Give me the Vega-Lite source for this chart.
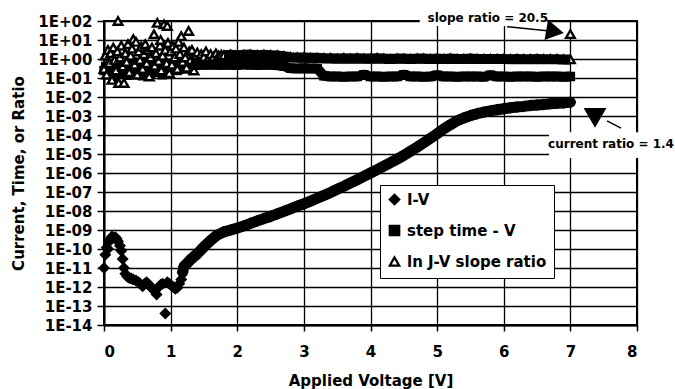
{
  "$schema": "https://vega.github.io/schema/vega-lite/v6.json",
  "width": 533,
  "height": 304,
  "autosize": {"type": "none"},
  "padding": {"left": 104, "top": 21, "right": 38, "bottom": 64},
  "background": "white",
  "config": {
    "font": "DejaVu Sans",
    "view": {"stroke": "black", "strokeWidth": 2},
    "axis": {
      "labelFont": "DejaVu Sans", "labelFontWeight": "bold", "labelFontSize": 15, "labelColor": "black",
      "titleFont": "DejaVu Sans", "titleFontWeight": "bold", "titleFontSize": 15, "titleColor": "black",
      "gridColor": "black", "gridWidth": 1.3, "gridOpacity": 1,
      "domainColor": "black", "domainWidth": 2, "tickColor": "black", "tickWidth": 1.5
    },
    "legend": {
      "labelFont": "DejaVu Sans", "labelFontWeight": "bold", "labelFontSize": 15, "labelColor": "black",
      "symbolSize": 90, "symbolStrokeWidth": 2.2,
      "rowPadding": 12, "labelOffset": 5, "padding": 7, "strokeColor": "black", "fillColor": "white"
    }
  },
  "datasets": {
    "series": [
      {"s":"I-V","v":0.00,"y":1e-11},{"s":"I-V","v":0.02,"y":5e-11},{"s":"I-V","v":0.04,"y":1.2e-10},{"s":"I-V","v":0.06,"y":1e-10},
      {"s":"I-V","v":0.08,"y":2.5e-10},{"s":"I-V","v":0.10,"y":3.5e-10},{"s":"I-V","v":0.12,"y":4.5e-10},{"s":"I-V","v":0.14,"y":4e-10},
      {"s":"I-V","v":0.17,"y":4.2e-10},{"s":"I-V","v":0.19,"y":3.5e-10},{"s":"I-V","v":0.21,"y":2.5e-10},{"s":"I-V","v":0.24,"y":1.5e-10},
      {"s":"I-V","v":0.26,"y":8e-11},{"s":"I-V","v":0.28,"y":3e-11},{"s":"I-V","v":0.30,"y":1e-11},{"s":"I-V","v":0.32,"y":5e-12},
      {"s":"I-V","v":0.35,"y":3.5e-12},{"s":"I-V","v":0.38,"y":3e-12},{"s":"I-V","v":0.41,"y":2.8e-12},{"s":"I-V","v":0.44,"y":2.5e-12},
      {"s":"I-V","v":0.48,"y":2.2e-12},{"s":"I-V","v":0.52,"y":1.8e-12},{"s":"I-V","v":0.55,"y":1.4e-12},{"s":"I-V","v":0.58,"y":1.1e-12},
      {"s":"I-V","v":0.61,"y":1.5e-12},{"s":"I-V","v":0.64,"y":1.8e-12},{"s":"I-V","v":0.67,"y":1.4e-12},{"s":"I-V","v":0.70,"y":1e-12},
      {"s":"I-V","v":0.73,"y":8e-13},{"s":"I-V","v":0.76,"y":6e-13},{"s":"I-V","v":0.79,"y":4e-13},{"s":"I-V","v":0.82,"y":1e-12},
      {"s":"I-V","v":0.85,"y":1.3e-12},{"s":"I-V","v":0.88,"y":1.5e-12},{"s":"I-V","v":0.92,"y":4e-14},{"s":"I-V","v":0.95,"y":1.8e-12},
      {"s":"I-V","v":0.98,"y":1.5e-12},{"s":"I-V","v":1.01,"y":1.2e-12},{"s":"I-V","v":1.04,"y":1e-12},{"s":"I-V","v":1.07,"y":8e-13},
      {"s":"I-V","v":1.10,"y":9e-13},{"s":"I-V","v":1.13,"y":1.5e-12},{"s":"I-V","v":1.16,"y":2.5e-12},{"s":"I-V","v":1.18,"y":6e-12},
      {"s":"I-V","v":1.20,"y":1.2e-11},{"s":"I-V","v":1.25,"y":1.8e-11},{"s":"I-V","v":1.30,"y":2.8e-11},{"s":"I-V","v":1.40,"y":5.6e-11},
      {"s":"I-V","v":1.50,"y":1.3e-10},{"s":"I-V","v":1.60,"y":2.8e-10},{"s":"I-V","v":1.70,"y":5.4e-10},{"s":"I-V","v":1.80,"y":8e-10},
      {"s":"I-V","v":1.90,"y":1e-9},{"s":"I-V","v":2.00,"y":1.25e-9},{"s":"I-V","v":2.10,"y":1.66e-9},{"s":"I-V","v":2.20,"y":2.24e-9},
      {"s":"I-V","v":2.30,"y":3e-9},{"s":"I-V","v":2.40,"y":4e-9},{"s":"I-V","v":2.50,"y":5.2e-9},{"s":"I-V","v":2.60,"y":7.1e-9},
      {"s":"I-V","v":2.70,"y":9.5e-9},{"s":"I-V","v":2.80,"y":1.3e-8},{"s":"I-V","v":2.90,"y":1.8e-8},{"s":"I-V","v":3.00,"y":2.4e-8},
      {"s":"I-V","v":3.10,"y":3.3e-8},{"s":"I-V","v":3.20,"y":4.7e-8},{"s":"I-V","v":3.30,"y":6.6e-8},{"s":"I-V","v":3.40,"y":9.5e-8},
      {"s":"I-V","v":3.50,"y":1.4e-7},{"s":"I-V","v":3.60,"y":2e-7},{"s":"I-V","v":3.70,"y":3e-7},{"s":"I-V","v":3.80,"y":4.4e-7},
      {"s":"I-V","v":3.90,"y":6.6e-7},{"s":"I-V","v":4.00,"y":1e-6},{"s":"I-V","v":4.10,"y":1.5e-6},{"s":"I-V","v":4.20,"y":2.3e-6},
      {"s":"I-V","v":4.30,"y":3.5e-6},{"s":"I-V","v":4.40,"y":5.4e-6},{"s":"I-V","v":4.50,"y":8.5e-6},{"s":"I-V","v":4.60,"y":1.4e-5},
      {"s":"I-V","v":4.70,"y":2.3e-5},{"s":"I-V","v":4.80,"y":3.9e-5},{"s":"I-V","v":4.90,"y":6.8e-5},{"s":"I-V","v":5.00,"y":1.17e-4},
      {"s":"I-V","v":5.10,"y":2.1e-4},{"s":"I-V","v":5.20,"y":3.5e-4},{"s":"I-V","v":5.30,"y":5.6e-4},{"s":"I-V","v":5.40,"y":7.9e-4},
      {"s":"I-V","v":5.50,"y":1.05e-3},{"s":"I-V","v":5.60,"y":1.32e-3},{"s":"I-V","v":5.70,"y":1.58e-3},{"s":"I-V","v":5.80,"y":1.86e-3},
      {"s":"I-V","v":5.90,"y":2.14e-3},{"s":"I-V","v":6.00,"y":2.4e-3},{"s":"I-V","v":6.10,"y":2.7e-3},{"s":"I-V","v":6.20,"y":2.95e-3},
      {"s":"I-V","v":6.30,"y":3.2e-3},{"s":"I-V","v":6.40,"y":3.55e-3},{"s":"I-V","v":6.50,"y":3.8e-3},{"s":"I-V","v":6.60,"y":4.07e-3},
      {"s":"I-V","v":6.70,"y":4.37e-3},{"s":"I-V","v":6.80,"y":4.68e-3},{"s":"I-V","v":6.90,"y":4.9e-3},{"s":"I-V","v":7.00,"y":5.25e-3},

      {"s":"step time - V","v":0.000,"y":0.25},{"s":"step time - V","v":0.025,"y":0.4},{"s":"step time - V","v":0.050,"y":0.15},{"s":"step time - V","v":0.075,"y":0.3},
      {"s":"step time - V","v":0.100,"y":0.5},{"s":"step time - V","v":0.125,"y":0.2},{"s":"step time - V","v":0.150,"y":0.35},{"s":"step time - V","v":0.175,"y":0.12},
      {"s":"step time - V","v":0.200,"y":0.45},{"s":"step time - V","v":0.225,"y":0.25},{"s":"step time - V","v":0.250,"y":0.6},{"s":"step time - V","v":0.275,"y":0.18},
      {"s":"step time - V","v":0.300,"y":0.3},{"s":"step time - V","v":0.325,"y":0.5},{"s":"step time - V","v":0.350,"y":0.14},{"s":"step time - V","v":0.375,"y":0.4},
      {"s":"step time - V","v":0.400,"y":0.22},{"s":"step time - V","v":0.425,"y":0.7},{"s":"step time - V","v":0.450,"y":0.3},{"s":"step time - V","v":0.475,"y":0.15},
      {"s":"step time - V","v":0.500,"y":0.45},{"s":"step time - V","v":0.525,"y":0.25},{"s":"step time - V","v":0.550,"y":0.55},{"s":"step time - V","v":0.575,"y":0.13},
      {"s":"step time - V","v":0.600,"y":0.35},{"s":"step time - V","v":0.625,"y":0.2},{"s":"step time - V","v":0.650,"y":0.5},{"s":"step time - V","v":0.675,"y":0.3},
      {"s":"step time - V","v":0.700,"y":0.16},{"s":"step time - V","v":0.725,"y":0.4},{"s":"step time - V","v":0.750,"y":0.25},{"s":"step time - V","v":0.775,"y":0.6},
      {"s":"step time - V","v":0.800,"y":0.2},{"s":"step time - V","v":0.825,"y":0.35},{"s":"step time - V","v":0.850,"y":0.5},{"s":"step time - V","v":0.875,"y":0.15},
      {"s":"step time - V","v":0.900,"y":0.3},{"s":"step time - V","v":0.925,"y":0.45},{"s":"step time - V","v":0.950,"y":0.22},{"s":"step time - V","v":0.975,"y":0.6},
      {"s":"step time - V","v":1.000,"y":0.35},{"s":"step time - V","v":1.025,"y":0.5},{"s":"step time - V","v":1.050,"y":0.3},{"s":"step time - V","v":1.075,"y":0.7},
      {"s":"step time - V","v":1.100,"y":0.25},{"s":"step time - V","v":1.125,"y":0.45},{"s":"step time - V","v":1.150,"y":0.55},{"s":"step time - V","v":1.175,"y":0.35},
      {"s":"step time - V","v":1.200,"y":0.5},{"s":"step time - V","v":1.225,"y":0.3},{"s":"step time - V","v":1.250,"y":0.45},
      {"s":"step time - V","v":1.3,"y":0.5},{"s":"step time - V","v":1.4,"y":0.48},{"s":"step time - V","v":1.5,"y":0.5},{"s":"step time - V","v":1.6,"y":0.52},
      {"s":"step time - V","v":1.7,"y":0.49},{"s":"step time - V","v":1.8,"y":0.5},{"s":"step time - V","v":1.9,"y":0.5},{"s":"step time - V","v":2.0,"y":0.48},
      {"s":"step time - V","v":2.1,"y":0.52},{"s":"step time - V","v":2.2,"y":0.5},{"s":"step time - V","v":2.3,"y":0.49},{"s":"step time - V","v":2.4,"y":0.5},
      {"s":"step time - V","v":2.5,"y":0.5},{"s":"step time - V","v":2.6,"y":0.47},{"s":"step time - V","v":2.7,"y":0.42},{"s":"step time - V","v":2.8,"y":0.33},
      {"s":"step time - V","v":2.9,"y":0.32},{"s":"step time - V","v":3.0,"y":0.33},{"s":"step time - V","v":3.1,"y":0.32},{"s":"step time - V","v":3.2,"y":0.32},
      {"s":"step time - V","v":3.3,"y":0.13},{"s":"step time - V","v":3.4,"y":0.12},{"s":"step time - V","v":3.5,"y":0.12},{"s":"step time - V","v":3.6,"y":0.115},
      {"s":"step time - V","v":3.7,"y":0.12},{"s":"step time - V","v":3.8,"y":0.12},{"s":"step time - V","v":3.9,"y":0.15},{"s":"step time - V","v":4.0,"y":0.12},
      {"s":"step time - V","v":4.1,"y":0.12},{"s":"step time - V","v":4.2,"y":0.115},{"s":"step time - V","v":4.3,"y":0.12},{"s":"step time - V","v":4.4,"y":0.12},
      {"s":"step time - V","v":4.5,"y":0.15},{"s":"step time - V","v":4.6,"y":0.12},{"s":"step time - V","v":4.7,"y":0.12},{"s":"step time - V","v":4.8,"y":0.115},
      {"s":"step time - V","v":4.9,"y":0.12},{"s":"step time - V","v":5.0,"y":0.14},{"s":"step time - V","v":5.1,"y":0.12},{"s":"step time - V","v":5.2,"y":0.12},
      {"s":"step time - V","v":5.3,"y":0.115},{"s":"step time - V","v":5.4,"y":0.12},{"s":"step time - V","v":5.5,"y":0.12},{"s":"step time - V","v":5.6,"y":0.12},
      {"s":"step time - V","v":5.7,"y":0.115},{"s":"step time - V","v":5.8,"y":0.14},{"s":"step time - V","v":5.9,"y":0.12},{"s":"step time - V","v":6.0,"y":0.12},
      {"s":"step time - V","v":6.1,"y":0.115},{"s":"step time - V","v":6.2,"y":0.12},{"s":"step time - V","v":6.3,"y":0.12},{"s":"step time - V","v":6.4,"y":0.12},
      {"s":"step time - V","v":6.5,"y":0.115},{"s":"step time - V","v":6.6,"y":0.12},{"s":"step time - V","v":6.7,"y":0.12},{"s":"step time - V","v":6.8,"y":0.12},
      {"s":"step time - V","v":6.9,"y":0.115},{"s":"step time - V","v":7.0,"y":0.12},

      {"s":"ln J-V slope ratio","v":0.00,"y":0.3},{"s":"ln J-V slope ratio","v":0.02,"y":1.5},{"s":"ln J-V slope ratio","v":0.04,"y":0.15},{"s":"ln J-V slope ratio","v":0.06,"y":3},
      {"s":"ln J-V slope ratio","v":0.08,"y":0.6},{"s":"ln J-V slope ratio","v":0.10,"y":2},{"s":"ln J-V slope ratio","v":0.12,"y":0.08},{"s":"ln J-V slope ratio","v":0.14,"y":4},
      {"s":"ln J-V slope ratio","v":0.16,"y":0.9},{"s":"ln J-V slope ratio","v":0.18,"y":0.25},{"s":"ln J-V slope ratio","v":0.20,"y":2.5},{"s":"ln J-V slope ratio","v":0.21,"y":100},
      {"s":"ln J-V slope ratio","v":0.22,"y":0.055},{"s":"ln J-V slope ratio","v":0.24,"y":1.2},{"s":"ln J-V slope ratio","v":0.26,"y":5},{"s":"ln J-V slope ratio","v":0.28,"y":0.4},
      {"s":"ln J-V slope ratio","v":0.30,"y":0.055},{"s":"ln J-V slope ratio","v":0.32,"y":2},{"s":"ln J-V slope ratio","v":0.34,"y":0.7},{"s":"ln J-V slope ratio","v":0.36,"y":6},
      {"s":"ln J-V slope ratio","v":0.38,"y":0.2},{"s":"ln J-V slope ratio","v":0.40,"y":1.5},{"s":"ln J-V slope ratio","v":0.42,"y":3.5},{"s":"ln J-V slope ratio","v":0.44,"y":11},
      {"s":"ln J-V slope ratio","v":0.46,"y":0.5},{"s":"ln J-V slope ratio","v":0.48,"y":8},{"s":"ln J-V slope ratio","v":0.50,"y":0.15},{"s":"ln J-V slope ratio","v":0.52,"y":2.5},
      {"s":"ln J-V slope ratio","v":0.54,"y":0.9},{"s":"ln J-V slope ratio","v":0.56,"y":4.5},{"s":"ln J-V slope ratio","v":0.58,"y":0.3},{"s":"ln J-V slope ratio","v":0.60,"y":1.8},
      {"s":"ln J-V slope ratio","v":0.62,"y":6},{"s":"ln J-V slope ratio","v":0.64,"y":0.6},{"s":"ln J-V slope ratio","v":0.66,"y":3},{"s":"ln J-V slope ratio","v":0.68,"y":0.12},
      {"s":"ln J-V slope ratio","v":0.70,"y":1.2},{"s":"ln J-V slope ratio","v":0.72,"y":4},{"s":"ln J-V slope ratio","v":0.75,"y":20},{"s":"ln J-V slope ratio","v":0.76,"y":0.45},
      {"s":"ln J-V slope ratio","v":0.78,"y":2},{"s":"ln J-V slope ratio","v":0.80,"y":80},{"s":"ln J-V slope ratio","v":0.82,"y":0.8},{"s":"ln J-V slope ratio","v":0.84,"y":5},
      {"s":"ln J-V slope ratio","v":0.85,"y":10},{"s":"ln J-V slope ratio","v":0.86,"y":0.25},{"s":"ln J-V slope ratio","v":0.88,"y":1.5},{"s":"ln J-V slope ratio","v":0.90,"y":67},
      {"s":"ln J-V slope ratio","v":0.92,"y":3},{"s":"ln J-V slope ratio","v":0.94,"y":0.6},{"s":"ln J-V slope ratio","v":0.95,"y":55},{"s":"ln J-V slope ratio","v":0.96,"y":7},
      {"s":"ln J-V slope ratio","v":0.98,"y":0.18},{"s":"ln J-V slope ratio","v":1.00,"y":2.5},{"s":"ln J-V slope ratio","v":1.02,"y":0.5},{"s":"ln J-V slope ratio","v":1.04,"y":5},
      {"s":"ln J-V slope ratio","v":1.06,"y":1.2},{"s":"ln J-V slope ratio","v":1.08,"y":3.5},{"s":"ln J-V slope ratio","v":1.10,"y":0.3},{"s":"ln J-V slope ratio","v":1.12,"y":8},
      {"s":"ln J-V slope ratio","v":1.14,"y":1.8},{"s":"ln J-V slope ratio","v":1.16,"y":16},{"s":"ln J-V slope ratio","v":1.18,"y":0.7},{"s":"ln J-V slope ratio","v":1.20,"y":4},
      {"s":"ln J-V slope ratio","v":1.22,"y":1.2},{"s":"ln J-V slope ratio","v":1.24,"y":0.35},{"s":"ln J-V slope ratio","v":1.27,"y":30},{"s":"ln J-V slope ratio","v":1.28,"y":2.5},
      {"s":"ln J-V slope ratio","v":1.30,"y":0.9},{"s":"ln J-V slope ratio","v":1.32,"y":3},{"s":"ln J-V slope ratio","v":1.35,"y":0.25},{"s":"ln J-V slope ratio","v":1.38,"y":1.6},
      {"s":"ln J-V slope ratio","v":1.40,"y":2.2},{"s":"ln J-V slope ratio","v":1.43,"y":0.7},{"s":"ln J-V slope ratio","v":1.46,"y":1.8},{"s":"ln J-V slope ratio","v":1.50,"y":1.3},
      {"s":"ln J-V slope ratio","v":1.53,"y":2.5},{"s":"ln J-V slope ratio","v":1.56,"y":0.9},{"s":"ln J-V slope ratio","v":1.60,"y":1.8},{"s":"ln J-V slope ratio","v":1.64,"y":1.3},
      {"s":"ln J-V slope ratio","v":1.68,"y":2},{"s":"ln J-V slope ratio","v":1.72,"y":1.5},{"s":"ln J-V slope ratio","v":1.76,"y":1.7},
      {"s":"ln J-V slope ratio","v":1.8,"y":1.6},{"s":"ln J-V slope ratio","v":1.9,"y":1.7},{"s":"ln J-V slope ratio","v":2.0,"y":1.6},{"s":"ln J-V slope ratio","v":2.1,"y":1.65},
      {"s":"ln J-V slope ratio","v":2.2,"y":1.7},{"s":"ln J-V slope ratio","v":2.3,"y":1.6},{"s":"ln J-V slope ratio","v":2.4,"y":1.65},{"s":"ln J-V slope ratio","v":2.5,"y":1.6},
      {"s":"ln J-V slope ratio","v":2.6,"y":1.55},{"s":"ln J-V slope ratio","v":2.7,"y":1.4},{"s":"ln J-V slope ratio","v":2.8,"y":1.25},{"s":"ln J-V slope ratio","v":2.9,"y":1.2},
      {"s":"ln J-V slope ratio","v":3.0,"y":1.2},{"s":"ln J-V slope ratio","v":3.1,"y":1.15},{"s":"ln J-V slope ratio","v":3.2,"y":1.15},{"s":"ln J-V slope ratio","v":3.3,"y":1.1},
      {"s":"ln J-V slope ratio","v":3.4,"y":1.1},{"s":"ln J-V slope ratio","v":3.5,"y":1.05},{"s":"ln J-V slope ratio","v":3.6,"y":1.1},{"s":"ln J-V slope ratio","v":3.7,"y":1.05},
      {"s":"ln J-V slope ratio","v":3.8,"y":1.1},{"s":"ln J-V slope ratio","v":3.9,"y":1.05},{"s":"ln J-V slope ratio","v":4.0,"y":1.05},{"s":"ln J-V slope ratio","v":4.1,"y":1.1},
      {"s":"ln J-V slope ratio","v":4.2,"y":1.05},{"s":"ln J-V slope ratio","v":4.3,"y":1.0},{"s":"ln J-V slope ratio","v":4.4,"y":1.05},{"s":"ln J-V slope ratio","v":4.5,"y":1.05},
      {"s":"ln J-V slope ratio","v":4.6,"y":1.0},{"s":"ln J-V slope ratio","v":4.7,"y":1.05},{"s":"ln J-V slope ratio","v":4.8,"y":1.05},{"s":"ln J-V slope ratio","v":4.9,"y":1.0},
      {"s":"ln J-V slope ratio","v":5.0,"y":1.05},{"s":"ln J-V slope ratio","v":5.1,"y":1.0},{"s":"ln J-V slope ratio","v":5.2,"y":1.05},{"s":"ln J-V slope ratio","v":5.3,"y":1.0},
      {"s":"ln J-V slope ratio","v":5.4,"y":1.0},{"s":"ln J-V slope ratio","v":5.5,"y":1.05},{"s":"ln J-V slope ratio","v":5.6,"y":1.0},{"s":"ln J-V slope ratio","v":5.7,"y":1.0},
      {"s":"ln J-V slope ratio","v":5.8,"y":1.0},{"s":"ln J-V slope ratio","v":5.9,"y":1.0},{"s":"ln J-V slope ratio","v":6.0,"y":1.0},{"s":"ln J-V slope ratio","v":6.1,"y":0.98},
      {"s":"ln J-V slope ratio","v":6.2,"y":1.0},{"s":"ln J-V slope ratio","v":6.3,"y":0.98},{"s":"ln J-V slope ratio","v":6.4,"y":0.98},{"s":"ln J-V slope ratio","v":6.5,"y":1.0},
      {"s":"ln J-V slope ratio","v":6.6,"y":0.98},{"s":"ln J-V slope ratio","v":6.7,"y":0.98},{"s":"ln J-V slope ratio","v":6.8,"y":0.98},{"s":"ln J-V slope ratio","v":6.9,"y":0.95},
      {"s":"ln J-V slope ratio","v":7.0,"y":0.95},{"s":"ln J-V slope ratio","v":7.0,"y":20.5}
    ],
    "boxes": [
      {"x1": 4.74, "x2": 6.65, "y1": 55, "y2": 690},
      {"x1": 6.68, "x2": 8.6, "y1": 6.2e-6, "y2": 1.4e-4}
    ],
    "labels": [
      {"v": 5.76, "y": 150, "t": "slope ratio = 20.5"},
      {"v": 7.61, "y": 3.4e-5, "t": "current ratio = 1.4"}
    ],
    "rules": [
      {"v": 6.05, "y": 50, "v2": 6.65, "y2": 31},
      {"v": 7.55, "y": 5.5e-4, "v2": 7.76, "y2": 2.3e-4}
    ]
  },
  "layer": [
    {
      "data": {"name": "boxes"},
      "mark": {"type": "rect", "color": "white"},
      "encoding": {
        "x": {"field": "x1", "type": "quantitative",
          "scale": {"domain": [0, 8], "nice": false, "zero": false},
          "axis": {
            "title": "Applied Voltage [V]", "values": [0,1,2,3,4,5,6,7,8], "format": "d",
            "grid": true, "tickSize": 6, "labelPadding": 13, "titleY": 60, "titleBaseline": "alphabetic"
          }},
        "x2": {"field": "x2"},
        "y": {"field": "y1", "type": "quantitative",
          "scale": {"type": "log", "domain": [1e-14, 100], "nice": false},
          "axis": {
            "title": "Current, Time, or Ratio",
            "values": [1e-14,1e-13,1e-12,1e-11,1e-10,1e-9,1e-8,1e-7,1e-6,1e-5,1e-4,1e-3,1e-2,1e-1,1,10,100],
            "labelExpr": "'1E' + (round(log(datum.value)/LN10) >= 0 ? '+' : '-') + format(abs(round(log(datum.value)/LN10)), '02d')",
            "grid": true, "tickSize": 7, "labelPadding": 5,
            "titleX": -86, "titleY": 152, "titleAngle": -90, "titleAlign": "center", "titleBaseline": "middle"
          }},
        "y2": {"field": "y2"}
      }
    },
    {
      "data": {"name": "series"},
      "transform": [{"filter": "datum.s == 'step time - V'"}],
      "mark": {"type": "point", "filled": false, "strokeWidth": 1.4, "opacity": 1, "size": 65},
      "encoding": {
        "x": {"field": "v", "type": "quantitative"},
        "y": {"field": "y", "type": "quantitative"},
        "shape": {
          "field": "s", "type": "nominal",
          "scale": {"domain": ["I-V", "step time - V", "ln J-V slope ratio"], "range": ["diamond", "square", "triangle-up"]},
          "legend": {"title": null, "orient": "none", "legendX": 276, "legendY": 164, "direction": "vertical"}
        },
        "fill": {
          "field": "s", "type": "nominal",
          "scale": {"domain": ["I-V", "step time - V", "ln J-V slope ratio"], "range": ["black", "black", "white"]},
          "legend": {"title": null, "orient": "none", "legendX": 276, "legendY": 164, "direction": "vertical"}
        },
        "stroke": {
          "field": "s", "type": "nominal",
          "scale": {"domain": ["I-V", "step time - V", "ln J-V slope ratio"], "range": ["black", "black", "black"]},
          "legend": {"title": null, "orient": "none", "legendX": 276, "legendY": 164, "direction": "vertical"}
        }
      }
    },
    {
      "data": {"name": "series"},
      "transform": [{"filter": "datum.s == 'ln J-V slope ratio'"}],
      "mark": {"type": "point", "filled": false, "strokeWidth": 2.4, "opacity": 1, "size": 75},
      "encoding": {
        "x": {"field": "v", "type": "quantitative"},
        "y": {"field": "y", "type": "quantitative"},
        "shape": {"field": "s", "type": "nominal"},
        "fill": {"field": "s", "type": "nominal"},
        "stroke": {"field": "s", "type": "nominal"}
      }
    },
    {
      "data": {"name": "series"},
      "transform": [{"filter": "datum.s == 'I-V'"}],
      "mark": {"type": "point", "filled": false, "strokeWidth": 1.4, "opacity": 1, "size": 100},
      "encoding": {
        "x": {"field": "v", "type": "quantitative"},
        "y": {"field": "y", "type": "quantitative"},
        "shape": {"field": "s", "type": "nominal"},
        "fill": {"field": "s", "type": "nominal"},
        "stroke": {"field": "s", "type": "nominal"}
      }
    },
    {
      "data": {"name": "series"},
      "transform": [
        {"filter": "(datum.s == 'step time - V' && datum.v >= 1.3) || (datum.s == 'ln J-V slope ratio' && datum.v >= 1.8 && datum.y < 10)"}
      ],
      "mark": {"type": "line", "color": "black", "strokeWidth": 10, "strokeCap": "butt", "strokeJoin": "round"},
      "encoding": {
        "x": {"field": "v", "type": "quantitative"},
        "y": {"field": "y", "type": "quantitative"},
        "detail": {"field": "s", "type": "nominal"}
      }
    },
    {
      "data": {"name": "series"},
      "transform": [{"filter": "datum.s == 'I-V' && datum.v >= 1.18"}],
      "mark": {"type": "line", "color": "black", "strokeWidth": 11, "strokeCap": "round", "strokeJoin": "round"},
      "encoding": {
        "x": {"field": "v", "type": "quantitative"},
        "y": {"field": "y", "type": "quantitative"}
      }
    },
    {
      "data": {"name": "labels"},
      "mark": {"type": "text", "font": "DejaVu Sans", "fontWeight": "bold", "fontSize": 12, "color": "black", "align": "center", "baseline": "middle"},
      "encoding": {
        "x": {"field": "v", "type": "quantitative"},
        "y": {"field": "y", "type": "quantitative"},
        "text": {"field": "t", "type": "nominal"}
      }
    },
    {
      "data": {"name": "rules"},
      "mark": {"type": "rule", "color": "black", "strokeWidth": 1.5},
      "encoding": {
        "x": {"field": "v", "type": "quantitative"},
        "y": {"field": "y", "type": "quantitative"},
        "x2": {"field": "v2"},
        "y2": {"field": "y2"}
      }
    },
    {
      "data": {"values": [{"v": 6.77, "y": 28}]},
      "mark": {"type": "point", "shape": "triangle-right", "filled": true, "color": "black", "size": 420, "angle": 10, "opacity": 1},
      "encoding": {
        "x": {"field": "v", "type": "quantitative"},
        "y": {"field": "y", "type": "quantitative"}
      }
    },
    {
      "data": {"values": [{"v": 7.37, "y": 7.9e-4}]},
      "mark": {"type": "point", "shape": "triangle-down", "filled": true, "color": "black", "size": 520, "opacity": 1},
      "encoding": {
        "x": {"field": "v", "type": "quantitative"},
        "y": {"field": "y", "type": "quantitative"}
      }
    }
  ]
}
